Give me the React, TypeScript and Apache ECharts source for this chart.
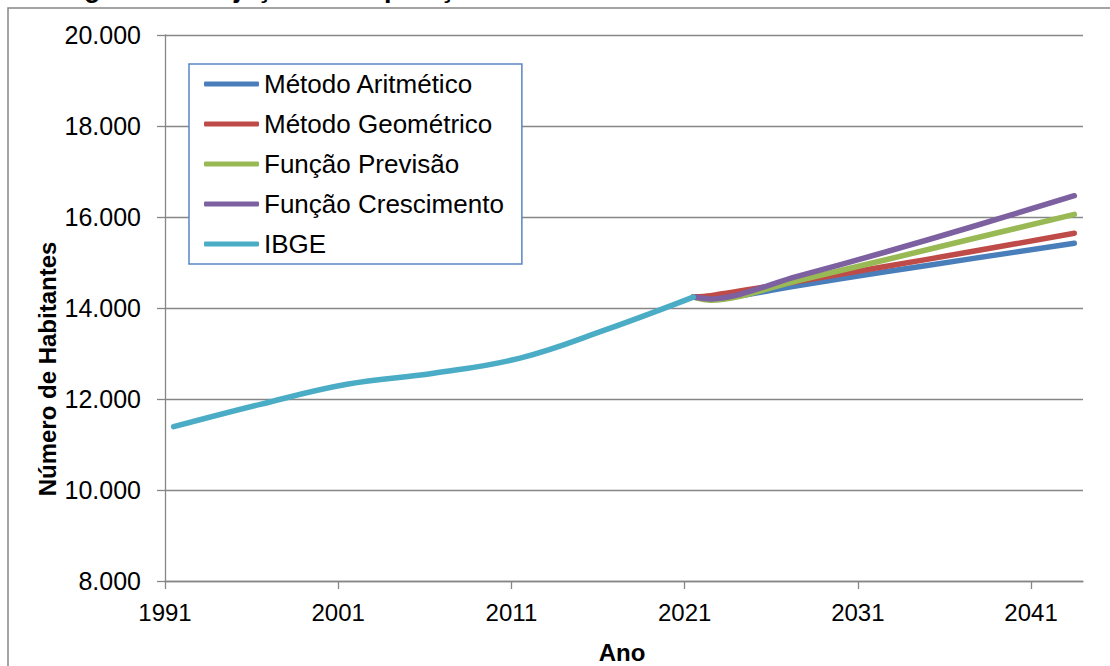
import React, { useEffect, useRef } from "react";
import * as echarts from "echarts";

const ibgeYears = [1991, 1996, 2001, 2006, 2011, 2016, 2021];
const ibgeValues = [11391, 11883, 12323, 12565, 12900, 13530, 14240];

const projYears = [2021, 2022, 2027, 2032, 2037, 2043];
const aritValues = [14240, 14210, 14490, 14790, 15080, 15422];
const geomValues = [14240, 14270, 14580, 14905, 15235, 15642];
const prevValues = [14240, 14170, 14600, 15050, 15510, 16059];
const crescValues = [14240, 14200, 14695, 15220, 15775, 16468];

const seriesNames = [
  "Método Aritmético",
  "Método Geométrico",
  "Função Previsão",
  "Função Crescimento",
  "IBGE",
];
const colors = ["#4A7EBB", "#BE4B48", "#98B954", "#7D60A0", "#4BACC6"];

const yTicks = { min: 8000, max: 20000, interval: 2000 };
const xTicks = { first: 1991, end: 2044, interval: 10 };

const FONT = "'Liberation Sans', Arial, sans-serif";
const GRID = "#868686";

const pairs = (xs: number[], ys: number[]) => xs.map((x, i) => [x, ys[i]]);

export default function App() {
  const ref = useRef<HTMLDivElement>(null);
  useEffect(() => {
    document.body.style.margin = "0";
    document.body.style.overflow = "hidden";
    const chart = echarts.init(ref.current!, undefined, { renderer: "svg" });
    const seriesData = [
      pairs(projYears, aritValues),
      pairs(projYears, geomValues),
      pairs(projYears, prevValues),
      pairs(projYears, crescValues),
      pairs(ibgeYears, ibgeValues),
    ];
    chart.setOption({
      animation: false,
      backgroundColor: "#fff",
      textStyle: { fontFamily: FONT },
      grid: { left: 165, right: 27, top: 35, bottom: 85 },
      legend: {
        orient: "vertical",
        left: 189,
        top: 64,
        data: seriesNames,
        icon: "roundRect",
        itemWidth: 55,
        itemHeight: 5,
        itemGap: 10,
        padding: [5, 18, 5, 15],
        backgroundColor: "#fff",
        borderColor: "#5B85C3",
        borderWidth: 1.5,
        borderRadius: 0,
        textStyle: { fontSize: 26, lineHeight: 30, color: "#000", fontFamily: FONT },
      },
      xAxis: [
        {
          type: "value",
          position: "top",
          min: xTicks.first - 0.5,
          max: xTicks.end - 0.5,
          show: false,
        },
        {
          type: "value",
          position: "bottom",
          min: xTicks.first,
          max: xTicks.end,
          interval: xTicks.interval,
          axisLine: { show: true, lineStyle: { color: GRID, width: 1.3 } },
          axisTick: { show: true, length: 8, lineStyle: { color: GRID, width: 1.3 } },
          axisLabel: {
            showMaxLabel: false,
            margin: 19,
            fontSize: 24,
            color: "#000",
            fontFamily: FONT,
            formatter: (v: number) => String(v),
          },
          splitLine: { show: false },
        },
      ],
      yAxis: {
        type: "value",
        min: yTicks.min,
        max: yTicks.max,
        interval: yTicks.interval,
        axisLine: { show: true, lineStyle: { color: GRID, width: 1.3 } },
        axisTick: { show: true, length: 8, lineStyle: { color: GRID, width: 1.3 } },
        axisLabel: {
          margin: 24,
          fontSize: 25,
          color: "#000",
          fontFamily: FONT,
          formatter: (v: number) =>
            `${Math.floor(v / 1000)}.${String(v % 1000).padStart(3, "0")}`,
        },
        splitLine: { show: true, lineStyle: { color: GRID, width: 1.3 } },
      },
      series: seriesNames.map((name, i) => ({
        name,
        type: "line",
        xAxisIndex: 0,
        data: seriesData[i],
        smooth: i === 4 ? 0.4 : 0.3,
        symbol: "none",
        color: colors[i],
        lineStyle: { width: 5.5, color: colors[i], cap: "round", join: "round" },
      })),
      graphic: [
        {
          type: "rect",
          silent: true,
          shape: { x: 8, y: 8, width: 1130, height: 690 },
          style: { fill: "none", stroke: GRID, lineWidth: 1.5 },
        },
        {
          type: "text",
          silent: true,
          x: 60,
          y: -12,
          style: {
            text: "Figura 5 - Projeção da População",
            font: `bold 27px ${FONT}`,
            fill: "#000",
            align: "left",
            verticalAlign: "middle",
          },
        },
        {
          type: "text",
          silent: true,
          x: 622,
          y: 652,
          style: {
            text: "Ano",
            font: `bold 24px ${FONT}`,
            fill: "#000",
            align: "center",
            verticalAlign: "middle",
          },
        },
        {
          type: "text",
          silent: true,
          x: 47,
          y: 369,
          rotation: Math.PI / 2,
          style: {
            text: "Número de Habitantes",
            font: `bold 24px ${FONT}`,
            fill: "#000",
            align: "center",
            verticalAlign: "middle",
          },
        },
      ],
    });
    return () => chart.dispose();
  }, []);
  return <div ref={ref} style={{ width: 1110, height: 666 }} />;
}
